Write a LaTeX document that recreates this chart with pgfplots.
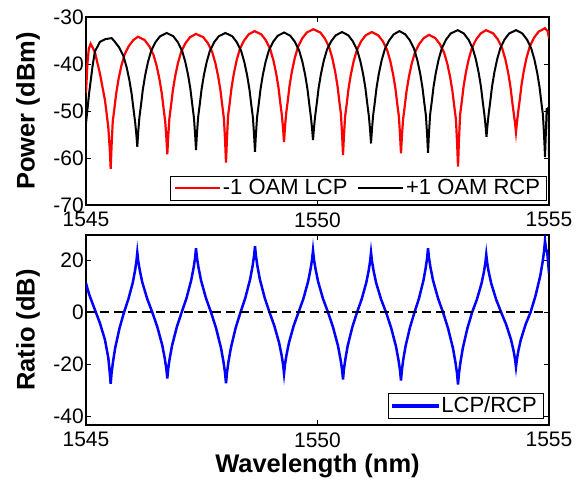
\documentclass[border=0pt]{standalone}
\usepackage{fontspec}
\setmainfont{Liberation Sans}
\usepackage{pgfplots}
\pgfplotsset{compat=1.18}

\pgfplotstableread{
x y
1545.000 -46.2
1545.030 -40.0
1545.060 -36.8
1545.100 -35.7
1545.190 -37.4
1545.300 -42.0
1545.410 -47.7
1545.481 -53.4
1545.513 -58.0
1545.533 -62.3
1545.553 -57.3
1545.578 -52.2
1545.613 -49.5
1545.653 -46.2
1545.703 -43.2
1545.763 -40.4
1545.833 -38.0
1545.923 -36.2
1546.023 -34.9
1546.123 -34.2
1546.266 -34.9
1546.366 -36.2
1546.456 -38.0
1546.526 -40.4
1546.586 -43.2
1546.636 -46.2
1546.676 -49.5
1546.711 -52.2
1546.736 -55.7
1546.756 -59.2
1546.776 -55.4
1546.801 -51.6
1546.836 -48.9
1546.876 -45.6
1546.926 -42.6
1546.986 -39.8
1547.056 -37.4
1547.146 -35.6
1547.246 -34.3
1547.376 -33.6
1547.534 -34.3
1547.634 -35.6
1547.724 -37.4
1547.794 -39.8
1547.854 -42.6
1547.904 -45.6
1547.944 -48.9
1547.979 -51.6
1548.004 -56.3
1548.024 -61.0
1548.044 -56.0
1548.069 -51.0
1548.104 -48.3
1548.144 -45.0
1548.194 -42.0
1548.254 -39.2
1548.324 -36.8
1548.414 -35.0
1548.514 -33.7
1548.640 -33.0
1548.787 -33.7
1548.887 -35.0
1548.977 -36.8
1549.047 -39.2
1549.107 -42.0
1549.157 -45.0
1549.197 -48.3
1549.232 -51.0
1549.257 -53.8
1549.277 -56.6
1549.297 -53.6
1549.322 -50.6
1549.357 -47.9
1549.397 -44.6
1549.447 -41.6
1549.507 -38.8
1549.577 -36.4
1549.667 -34.6
1549.767 -33.3
1549.910 -32.6
1550.061 -33.3
1550.161 -34.6
1550.251 -36.4
1550.321 -38.8
1550.381 -41.6
1550.431 -44.6
1550.471 -47.9
1550.506 -50.6
1550.531 -55.0
1550.551 -59.4
1550.571 -55.3
1550.596 -51.2
1550.631 -48.5
1550.671 -45.2
1550.721 -42.2
1550.781 -39.4
1550.851 -37.0
1550.941 -35.2
1551.041 -33.9
1551.170 -33.2
1551.313 -33.9
1551.413 -35.2
1551.503 -37.0
1551.573 -39.4
1551.633 -42.2
1551.683 -45.2
1551.723 -48.5
1551.758 -51.2
1551.783 -55.1
1551.803 -59.0
1551.823 -55.4
1551.848 -51.8
1551.883 -49.1
1551.923 -45.8
1551.973 -42.8
1552.033 -40.0
1552.103 -37.6
1552.193 -35.8
1552.293 -34.5
1552.410 -33.8
1552.545 -34.5
1552.645 -35.8
1552.735 -37.6
1552.805 -40.0
1552.865 -42.8
1552.915 -45.8
1552.955 -49.1
1552.990 -51.8
1553.015 -56.8
1553.035 -61.8
1553.055 -56.3
1553.080 -50.8
1553.115 -48.1
1553.155 -44.8
1553.205 -41.8
1553.265 -39.0
1553.335 -36.6
1553.425 -34.8
1553.525 -33.5
1553.640 -32.8
1553.797 -33.5
1553.897 -34.8
1553.987 -36.6
1554.057 -39.0
1554.117 -41.8
1554.167 -44.8
1554.207 -48.1
1554.242 -50.8
1554.267 -52.6
1554.287 -54.5
1554.307 -52.5
1554.332 -50.4
1554.367 -47.7
1554.407 -44.4
1554.457 -41.4
1554.517 -38.6
1554.587 -36.2
1554.677 -34.4
1554.777 -33.1
1554.914 -32.4
1554.970 -33.0
1555.000 -34.5
}\lcptab

\pgfplotstableread{
x y
1545.000 -52.6
1545.070 -46.0
1545.140 -40.6
1545.190 -37.4
1545.300 -35.3
1545.420 -34.7
1545.555 -34.5
1545.618 -35.2
1545.718 -36.5
1545.808 -38.3
1545.878 -40.7
1545.938 -43.5
1545.988 -46.5
1546.028 -49.8
1546.063 -52.5
1546.088 -55.1
1546.108 -57.6
1546.128 -54.5
1546.153 -51.4
1546.188 -48.7
1546.228 -45.4
1546.278 -42.4
1546.338 -39.6
1546.408 -37.2
1546.498 -35.4
1546.598 -34.1
1546.743 -33.4
1546.886 -34.1
1546.986 -35.4
1547.076 -37.2
1547.146 -39.6
1547.206 -42.4
1547.256 -45.4
1547.296 -48.7
1547.331 -51.4
1547.356 -54.9
1547.376 -58.3
1547.396 -54.9
1547.421 -51.4
1547.456 -48.7
1547.496 -45.4
1547.546 -42.4
1547.606 -39.6
1547.676 -37.2
1547.766 -35.4
1547.866 -34.1
1548.010 -33.4
1548.160 -34.1
1548.260 -35.4
1548.350 -37.2
1548.420 -39.6
1548.480 -42.4
1548.530 -45.4
1548.570 -48.7
1548.605 -51.4
1548.630 -55.1
1548.650 -58.7
1548.670 -55.0
1548.695 -51.3
1548.730 -48.6
1548.770 -45.3
1548.820 -42.3
1548.880 -39.5
1548.950 -37.1
1549.040 -35.3
1549.140 -34.0
1549.280 -33.3
1549.413 -34.0
1549.513 -35.3
1549.603 -37.1
1549.673 -39.5
1549.733 -42.3
1549.783 -45.3
1549.823 -48.6
1549.858 -51.3
1549.883 -53.8
1549.903 -56.2
1549.923 -53.7
1549.948 -51.2
1549.983 -48.5
1550.023 -45.2
1550.073 -42.2
1550.133 -39.4
1550.203 -37.0
1550.293 -35.2
1550.393 -33.9
1550.530 -33.2
1550.666 -33.9
1550.766 -35.2
1550.856 -37.0
1550.926 -39.4
1550.986 -42.2
1551.036 -45.2
1551.076 -48.5
1551.111 -51.2
1551.136 -54.1
1551.156 -56.9
1551.176 -54.0
1551.201 -51.0
1551.236 -48.3
1551.276 -45.0
1551.326 -42.0
1551.386 -39.2
1551.456 -36.8
1551.546 -35.0
1551.646 -33.7
1551.770 -33.0
1551.897 -33.7
1551.997 -35.0
1552.087 -36.8
1552.157 -39.2
1552.217 -42.0
1552.267 -45.0
1552.307 -48.3
1552.342 -51.0
1552.367 -55.0
1552.387 -58.9
1552.407 -54.9
1552.432 -50.8
1552.467 -48.1
1552.507 -44.8
1552.557 -41.8
1552.617 -39.0
1552.687 -36.6
1552.777 -34.8
1552.877 -33.5
1553.030 -32.8
1553.160 -33.5
1553.260 -34.8
1553.350 -36.6
1553.420 -39.0
1553.480 -41.8
1553.530 -44.8
1553.570 -48.1
1553.605 -50.8
1553.630 -53.2
1553.650 -55.5
1553.670 -53.2
1553.695 -50.8
1553.730 -48.1
1553.770 -44.8
1553.820 -41.8
1553.880 -39.0
1553.950 -36.6
1554.040 -34.8
1554.140 -33.5
1554.290 -32.8
1554.424 -33.5
1554.524 -34.8
1554.614 -36.6
1554.684 -39.0
1554.744 -41.8
1554.794 -44.8
1554.834 -48.1
1554.869 -50.8
1554.894 -55.3
1554.914 -59.8
1554.950 -49.6
1554.995 -49.3
1555.000 -59.5
}\rcptab

\pgfplotstableread{
x y
1545.000 11.2
1545.040 8.5
1545.086 6.0
1545.194 0.9
1545.302 -4.2
1545.410 -10.6
1545.482 -17.5
1545.510 -22.5
1545.533 -27.5
1545.552 -23.4
1545.581 -19.3
1545.629 -13.8
1545.724 -6.1
1545.821 0.0
1545.916 5.1
1546.012 11.5
1546.060 16.1
1546.089 19.6
1546.108 23.0
1546.129 19.6
1546.162 16.1
1546.216 11.5
1546.324 5.1
1546.432 0.0
1546.540 -5.6
1546.648 -12.7
1546.702 -17.8
1546.735 -21.6
1546.756 -25.4
1546.776 -21.6
1546.807 -17.8
1546.860 -12.7
1546.962 -5.6
1547.066 0.0
1547.170 5.4
1547.272 12.3
1547.325 17.2
1547.356 20.9
1547.376 24.6
1547.397 20.9
1547.430 17.2
1547.484 12.3
1547.592 5.4
1547.700 0.0
1547.808 -6.0
1547.916 -13.7
1547.970 -19.1
1548.003 -23.2
1548.024 -27.3
1548.045 -23.2
1548.076 -19.1
1548.129 -13.7
1548.232 -6.0
1548.337 0.0
1548.442 5.6
1548.545 12.7
1548.598 17.8
1548.629 21.6
1548.650 25.4
1548.671 21.6
1548.702 17.8
1548.755 12.7
1548.859 5.6
1548.964 0.0
1549.068 -5.2
1549.172 -11.8
1549.225 -16.5
1549.256 -20.0
1549.277 -23.5
1549.298 -20.0
1549.329 -16.5
1549.382 -11.8
1549.485 -5.2
1549.590 0.0
1549.695 5.2
1549.798 11.9
1549.851 16.7
1549.882 20.2
1549.903 23.8
1549.924 20.2
1549.957 16.7
1550.011 11.9
1550.119 5.2
1550.227 0.0
1550.335 -5.7
1550.443 -12.9
1550.497 -18.1
1550.530 -21.9
1550.551 -25.8
1550.571 -21.9
1550.601 -18.1
1550.652 -12.9
1550.752 -5.7
1550.854 0.0
1550.955 5.1
1551.055 11.5
1551.106 16.1
1551.136 19.6
1551.156 23.0
1551.177 19.6
1551.210 16.1
1551.264 11.5
1551.371 5.1
1551.480 0.0
1551.588 -5.8
1551.695 -13.1
1551.749 -18.3
1551.782 -22.3
1551.803 -26.2
1551.822 -22.3
1551.851 -18.3
1551.901 -13.1
1551.997 -5.8
1552.095 0.0
1552.193 5.4
1552.289 12.3
1552.338 17.2
1552.368 20.9
1552.387 24.6
1552.408 20.9
1552.441 17.2
1552.495 12.3
1552.603 5.4
1552.711 0.0
1552.819 -6.1
1552.927 -13.9
1552.981 -19.4
1553.014 -23.5
1553.035 -27.7
1553.055 -23.5
1553.086 -19.4
1553.137 -13.9
1553.238 -6.1
1553.340 0.0
1553.442 4.9
1553.543 11.1
1553.594 15.5
1553.625 18.9
1553.645 22.2
1553.666 18.9
1553.698 15.5
1553.752 11.1
1553.859 4.9
1553.966 0.0
1554.073 -4.6
1554.180 -10.5
1554.234 -14.7
1554.266 -17.9
1554.287 -21.0
1554.308 -17.9
1554.339 -14.7
1554.392 -10.5
1554.496 -4.6
1554.601 0.0
1554.705 6.1
1554.809 13.8
1554.862 19.3
1554.893 23.4
1554.914 27.5
1554.935 24.5
1554.964 22.7
1555.000 15.0
}\ratiotab

\pgfplotsset{
  common/.style={
    scale only axis,
    width=463pt,
    xmin=1545, xmax=1555,
    xtick={1545,1550,1555},
    tick align=inside,
    major tick length=5pt,
    tick style={line width=0.8pt, black},
    axis line style={line width=1.2pt},
    ticklabel style={font=\fontsize{21}{24}\selectfont},
    yticklabel style={inner xsep=2pt},
    xticklabel style={yshift=-4pt},
    /pgf/number format/assume math mode=true,
    /pgf/number format/1000 sep={},
    label style={font=\bfseries\fontsize{25.5}{30}\selectfont},
    ylabel style={at={(axis description cs:-0.125,0.5)}, anchor=center},
    legend style={font=\fontsize{22}{25}\selectfont, draw=black,
      anchor=south east, inner xsep=4pt, inner ysep=1.5pt,
      /tikz/every even column/.append style={column sep=8pt}},
    legend cell align=left,
  }
}

\begin{document}
\begin{tikzpicture}
\useasboundingbox (0pt,0pt) rectangle (582pt,-483pt);
\begin{axis}[common,
  at={(86pt,-17pt)}, anchor=north west,
  height=188pt,
  ymin=-70, ymax=-30,
  ytick={-70,-60,-50,-40,-30},
  ylabel={Power (dBm)},
  legend columns=2,
  legend style={at={(rel axis cs:0.994,0.027)}},
]
\addplot[red, line width=2.2pt,
  legend image code/.code={\draw[red, line width=1.6pt] (0pt,0pt) -- (45pt,0pt);}]
  table[x=x,y=y] {\lcptab};
\addlegendentry{-1 OAM LCP}
\addplot[black, line width=2pt,
  legend image code/.code={\draw[black, line width=1.6pt] (0pt,0pt) -- (45pt,0pt);}]
  table[x=x,y=y] {\rcptab};
\addlegendentry{+1 OAM RCP}
\end{axis}
\begin{axis}[common,
  at={(86pt,-235pt)}, anchor=north west,
  height=190pt,
  ymin=-43.3, ymax=29.7,
  ytick={-40,-20,0,20},
  ylabel={Ratio (dB)},
  xlabel={Wavelength (nm)},
  xlabel style={at={(axis description cs:0.5,-0.215)}, anchor=center},
  legend style={at={(rel axis cs:0.987,0.037)}},
]
\addplot[blue, line width=2.5pt,
  legend image code/.code={\fill[blue] (0pt,-0.7pt) rectangle (45pt,0.7pt);}]
  table[x=x,y=y] {\ratiotab};
\addlegendentry{LCP/RCP}
\addplot[black, line width=2pt, dash pattern=on 9pt off 5pt, forget plot] coordinates {(1545,0) (1555,0)};
\end{axis}
\end{tikzpicture}
\end{document}
